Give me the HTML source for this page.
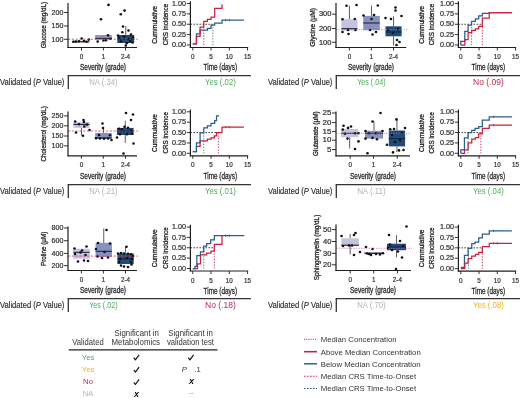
<!DOCTYPE html>
<html><head><meta charset="utf-8"><style>
html,body{margin:0;padding:0;background:#fff;}
svg{display:block;font-family:"Liberation Sans", sans-serif;filter:blur(0.4px);}
</style></head><body>
<svg width="520" height="398" viewBox="0 0 520 398">
<rect width="520" height="398" fill="#fff"/>
<rect x="72.30" y="40.60" width="17.00" height="2.20" fill="#c3c4df"/>
<line x1="72.30" y1="41.80" x2="89.30" y2="41.80" stroke="#1a1a2a" stroke-width="1.0" stroke-linecap="butt"/>
<rect x="95.20" y="35.10" width="16.60" height="4.40" fill="#8791bf"/>
<line x1="95.20" y1="38.60" x2="111.80" y2="38.60" stroke="#1a1a2a" stroke-width="1.0" stroke-linecap="butt"/>
<line x1="125.75" y1="26.00" x2="125.75" y2="35.00" stroke="#333" stroke-width="0.8" stroke-linecap="butt"/>
<line x1="125.75" y1="43.00" x2="125.75" y2="46.60" stroke="#333" stroke-width="0.8" stroke-linecap="butt"/>
<rect x="117.30" y="35.00" width="16.90" height="8.00" fill="#1f4b7b"/>
<line x1="117.30" y1="39.50" x2="134.20" y2="39.50" stroke="#0d2340" stroke-width="1.0" stroke-linecap="butt"/>
<circle cx="73.50" cy="41.80" r="1.3" fill="#111"/>
<circle cx="76.00" cy="41.50" r="1.3" fill="#111"/>
<circle cx="79.00" cy="41.20" r="1.3" fill="#111"/>
<circle cx="81.70" cy="38.50" r="1.3" fill="#111"/>
<circle cx="84.00" cy="41.00" r="1.3" fill="#111"/>
<circle cx="86.50" cy="41.80" r="1.3" fill="#111"/>
<circle cx="88.80" cy="39.60" r="1.3" fill="#111"/>
<circle cx="101.00" cy="19.20" r="1.3" fill="#111"/>
<circle cx="108.50" cy="4.90" r="1.3" fill="#111"/>
<circle cx="97.70" cy="41.50" r="1.3" fill="#111"/>
<circle cx="103.50" cy="40.50" r="1.3" fill="#111"/>
<circle cx="106.00" cy="40.20" r="1.3" fill="#111"/>
<circle cx="108.00" cy="35.20" r="1.3" fill="#111"/>
<circle cx="110.50" cy="38.80" r="1.3" fill="#111"/>
<circle cx="120.80" cy="14.20" r="1.3" fill="#111"/>
<circle cx="124.60" cy="10.60" r="1.3" fill="#111"/>
<circle cx="123.00" cy="26.50" r="1.3" fill="#111"/>
<circle cx="122.30" cy="32.30" r="1.3" fill="#111"/>
<circle cx="128.50" cy="30.50" r="1.3" fill="#111"/>
<circle cx="131.00" cy="34.60" r="1.3" fill="#111"/>
<circle cx="125.80" cy="45.50" r="1.3" fill="#111"/>
<circle cx="119.00" cy="38.00" r="1.3" fill="#111"/>
<circle cx="121.00" cy="41.50" r="1.3" fill="#111"/>
<circle cx="127.00" cy="43.00" r="1.3" fill="#111"/>
<circle cx="130.00" cy="41.00" r="1.3" fill="#111"/>
<circle cx="133.00" cy="37.50" r="1.3" fill="#111"/>
<circle cx="118.00" cy="35.50" r="1.3" fill="#111"/>
<circle cx="124.00" cy="36.50" r="1.3" fill="#111"/>
<circle cx="129.00" cy="38.80" r="1.3" fill="#111"/>
<circle cx="132.50" cy="42.50" r="1.3" fill="#111"/>
<line x1="68.00" y1="39.20" x2="138.00" y2="39.20" stroke="#d83c5c" stroke-width="0.8" stroke-dasharray="2.2,1.6" stroke-linecap="butt"/>
<line x1="68.00" y1="3.00" x2="68.00" y2="48.05" stroke="#1e1e1e" stroke-width="1.2" stroke-linecap="butt"/>
<line x1="67.40" y1="47.50" x2="137.00" y2="47.50" stroke="#1e1e1e" stroke-width="1.2" stroke-linecap="butt"/>
<line x1="64.00" y1="12.50" x2="68.00" y2="12.50" stroke="#1e1e1e" stroke-width="0.9" stroke-linecap="butt"/>
<text x="63.40" y="14.70" font-size="6.3" fill="#333" text-anchor="end" textLength="11.8" lengthAdjust="spacingAndGlyphs"  stroke="#333" stroke-width="0.2">200</text>
<line x1="64.00" y1="26.00" x2="68.00" y2="26.00" stroke="#1e1e1e" stroke-width="0.9" stroke-linecap="butt"/>
<text x="63.40" y="28.20" font-size="6.3" fill="#333" text-anchor="end" textLength="11.8" lengthAdjust="spacingAndGlyphs"  stroke="#333" stroke-width="0.2">150</text>
<line x1="64.00" y1="39.30" x2="68.00" y2="39.30" stroke="#1e1e1e" stroke-width="0.9" stroke-linecap="butt"/>
<text x="63.40" y="41.50" font-size="6.3" fill="#333" text-anchor="end" textLength="11.8" lengthAdjust="spacingAndGlyphs"  stroke="#333" stroke-width="0.2">100</text>
<line x1="81.50" y1="47.50" x2="81.50" y2="50.50" stroke="#1e1e1e" stroke-width="0.9" stroke-linecap="butt"/>
<text x="81.50" y="59.00" font-size="6.3" fill="#333" text-anchor="middle"  stroke="#333" stroke-width="0.2">0</text>
<line x1="103.40" y1="47.50" x2="103.40" y2="50.50" stroke="#1e1e1e" stroke-width="0.9" stroke-linecap="butt"/>
<text x="103.40" y="59.00" font-size="6.3" fill="#333" text-anchor="middle"  stroke="#333" stroke-width="0.2">1</text>
<line x1="125.50" y1="47.50" x2="125.50" y2="50.50" stroke="#1e1e1e" stroke-width="0.9" stroke-linecap="butt"/>
<text x="125.50" y="59.00" font-size="6.3" fill="#333" text-anchor="middle"  stroke="#333" stroke-width="0.2">2-4</text>
<text transform="translate(46.30,25.10) rotate(-90)" x="0" y="0" font-size="7.6" fill="#222" text-anchor="middle" textLength="46.5" lengthAdjust="spacingAndGlyphs"  stroke="#222" stroke-width="0.3">Glucose (mg/dL)</text>
<text x="103.00" y="70.30" font-size="8.8" fill="#2a2a2a" text-anchor="middle" textLength="46" lengthAdjust="spacingAndGlyphs"  stroke="#2a2a2a" stroke-width="0.3">Severity (grade)</text>
<line x1="190.40" y1="24.25" x2="212.88" y2="24.25" stroke="#333" stroke-width="0.9" stroke-dasharray="1.6,1.4" stroke-linecap="butt"/>
<line x1="212.88" y1="24.25" x2="212.88" y2="45.00" stroke="#3a7a8a" stroke-width="0.9" stroke-dasharray="1.4,1.4" stroke-linecap="butt"/>
<line x1="203.75" y1="24.25" x2="203.75" y2="45.00" stroke="#d0264a" stroke-width="0.9" stroke-dasharray="1.4,1.4" stroke-linecap="butt"/>
<path d="M192.80,43.76H196.45V33.80H200.10V30.06H207.40V28.40H211.05V25.08H214.70V23.00H222.00V20.10H243.90" fill="none" stroke="#2c5d8c" stroke-width="1.25" stroke-linejoin="miter"/>
<path d="M192.80,43.76H196.45V36.28H200.10V27.16H203.75V21.35H207.40V19.27H211.05V17.19H214.70V8.48H222.00V4.75H222.37" fill="none" stroke="#c9213f" stroke-width="1.25" stroke-linejoin="miter"/>
<line x1="225.65" y1="18.90" x2="225.65" y2="21.30" stroke="#2c5d8c" stroke-width="0.8" stroke-linecap="butt"/>
<line x1="229.30" y1="18.90" x2="229.30" y2="21.30" stroke="#2c5d8c" stroke-width="0.8" stroke-linecap="butt"/>
<line x1="190.40" y1="1.20" x2="190.40" y2="48.05" stroke="#1e1e1e" stroke-width="1.2" stroke-linecap="butt"/>
<line x1="189.80" y1="47.50" x2="248.15" y2="47.50" stroke="#1e1e1e" stroke-width="1.2" stroke-linecap="butt"/>
<line x1="186.80" y1="3.50" x2="190.40" y2="3.50" stroke="#1e1e1e" stroke-width="0.9" stroke-linecap="butt"/>
<text x="186.00" y="5.70" font-size="6.3" fill="#333" text-anchor="end" textLength="14" lengthAdjust="spacingAndGlyphs"  stroke="#333" stroke-width="0.2">1.00</text>
<line x1="186.80" y1="13.88" x2="190.40" y2="13.88" stroke="#1e1e1e" stroke-width="0.9" stroke-linecap="butt"/>
<text x="186.00" y="16.07" font-size="6.3" fill="#333" text-anchor="end" textLength="14" lengthAdjust="spacingAndGlyphs"  stroke="#333" stroke-width="0.2">0.75</text>
<line x1="186.80" y1="24.25" x2="190.40" y2="24.25" stroke="#1e1e1e" stroke-width="0.9" stroke-linecap="butt"/>
<text x="186.00" y="26.45" font-size="6.3" fill="#333" text-anchor="end" textLength="14" lengthAdjust="spacingAndGlyphs"  stroke="#333" stroke-width="0.2">0.50</text>
<line x1="186.80" y1="34.62" x2="190.40" y2="34.62" stroke="#1e1e1e" stroke-width="0.9" stroke-linecap="butt"/>
<text x="186.00" y="36.83" font-size="6.3" fill="#333" text-anchor="end" textLength="14" lengthAdjust="spacingAndGlyphs"  stroke="#333" stroke-width="0.2">0.25</text>
<line x1="186.80" y1="45.00" x2="190.40" y2="45.00" stroke="#1e1e1e" stroke-width="0.9" stroke-linecap="butt"/>
<text x="186.00" y="47.20" font-size="6.3" fill="#333" text-anchor="end" textLength="14" lengthAdjust="spacingAndGlyphs"  stroke="#333" stroke-width="0.2">0.00</text>
<line x1="192.80" y1="47.50" x2="192.80" y2="50.50" stroke="#1e1e1e" stroke-width="0.9" stroke-linecap="butt"/>
<text x="192.80" y="59.00" font-size="6.3" fill="#333" text-anchor="middle"  stroke="#333" stroke-width="0.2">0</text>
<line x1="211.05" y1="47.50" x2="211.05" y2="50.50" stroke="#1e1e1e" stroke-width="0.9" stroke-linecap="butt"/>
<text x="211.05" y="59.00" font-size="6.3" fill="#333" text-anchor="middle"  stroke="#333" stroke-width="0.2">5</text>
<line x1="229.30" y1="47.50" x2="229.30" y2="50.50" stroke="#1e1e1e" stroke-width="0.9" stroke-linecap="butt"/>
<text x="229.30" y="59.00" font-size="6.3" fill="#333" text-anchor="middle"  stroke="#333" stroke-width="0.2">10</text>
<line x1="247.55" y1="47.50" x2="247.55" y2="50.50" stroke="#1e1e1e" stroke-width="0.9" stroke-linecap="butt"/>
<text x="247.55" y="59.00" font-size="6.3" fill="#333" text-anchor="middle"  stroke="#333" stroke-width="0.2">15</text>
<text transform="translate(156.80,24.80) rotate(-90)" x="0" y="0" font-size="7.8" fill="#222" text-anchor="middle" textLength="37.7" lengthAdjust="spacingAndGlyphs"  stroke="#222" stroke-width="0.3">Cummulative</text>
<text transform="translate(167.50,24.50) rotate(-90)" x="0" y="0" font-size="7.8" fill="#222" text-anchor="middle" textLength="41.4" lengthAdjust="spacingAndGlyphs"  stroke="#222" stroke-width="0.3">CRS incidence</text>
<text x="220.30" y="70.30" font-size="8.8" fill="#2a2a2a" text-anchor="middle" textLength="33.5" lengthAdjust="spacingAndGlyphs"  stroke="#2a2a2a" stroke-width="0.3">Time (days)</text>
<text x="0.00" y="85.30" font-size="8.6" fill="#2a2a2a" textLength="64.4" lengthAdjust="spacingAndGlyphs"  stroke="#2a2a2a" stroke-width="0.15">Validated (<tspan font-style="italic">P</tspan> Value)</text>
<line x1="68.30" y1="75.60" x2="68.30" y2="88.90" stroke="#333" stroke-width="1.3" stroke-linecap="butt"/>
<line x1="67.70" y1="75.60" x2="251.00" y2="75.60" stroke="#333" stroke-width="1.3" stroke-linecap="butt"/>
<text x="103.40" y="85.30" font-size="8.6" fill="#b4b4b4" text-anchor="middle" textLength="28.5" lengthAdjust="spacingAndGlyphs" >NA (.34)</text>
<text x="220.40" y="85.30" font-size="8.6" fill="#4fab5c" text-anchor="middle" textLength="30.8" lengthAdjust="spacingAndGlyphs" >Yes (.02)</text>
<line x1="81.45" y1="127.90" x2="81.45" y2="135.70" stroke="#333" stroke-width="0.8" stroke-linecap="butt"/>
<rect x="73.40" y="122.20" width="16.10" height="5.70" fill="#c3c4df"/>
<line x1="73.40" y1="124.40" x2="89.50" y2="124.40" stroke="#1a1a2a" stroke-width="1.0" stroke-linecap="butt"/>
<line x1="103.50" y1="127.90" x2="103.50" y2="132.90" stroke="#333" stroke-width="0.8" stroke-linecap="butt"/>
<rect x="95.20" y="132.90" width="16.60" height="6.10" fill="#8791bf"/>
<line x1="95.20" y1="137.90" x2="111.80" y2="137.90" stroke="#1a1a2a" stroke-width="1.0" stroke-linecap="butt"/>
<line x1="125.25" y1="120.80" x2="125.25" y2="127.90" stroke="#333" stroke-width="0.8" stroke-linecap="butt"/>
<line x1="125.25" y1="135.00" x2="125.25" y2="142.90" stroke="#333" stroke-width="0.8" stroke-linecap="butt"/>
<rect x="116.90" y="127.90" width="16.70" height="7.10" fill="#1f4b7b"/>
<line x1="116.90" y1="131.00" x2="133.60" y2="131.00" stroke="#0d2340" stroke-width="1.0" stroke-linecap="butt"/>
<circle cx="75.20" cy="121.50" r="1.3" fill="#111"/>
<circle cx="83.50" cy="120.10" r="1.3" fill="#111"/>
<circle cx="84.00" cy="122.00" r="1.3" fill="#111"/>
<circle cx="84.30" cy="126.50" r="1.3" fill="#111"/>
<circle cx="76.00" cy="132.50" r="1.3" fill="#111"/>
<circle cx="83.00" cy="135.70" r="1.3" fill="#111"/>
<circle cx="89.50" cy="130.00" r="1.3" fill="#111"/>
<circle cx="79.00" cy="124.30" r="1.3" fill="#111"/>
<circle cx="87.00" cy="124.60" r="1.3" fill="#111"/>
<circle cx="102.50" cy="123.50" r="1.3" fill="#111"/>
<circle cx="103.00" cy="128.00" r="1.3" fill="#111"/>
<circle cx="99.00" cy="135.00" r="1.3" fill="#111"/>
<circle cx="96.00" cy="138.30" r="1.3" fill="#111"/>
<circle cx="100.00" cy="138.50" r="1.3" fill="#111"/>
<circle cx="104.00" cy="138.70" r="1.3" fill="#111"/>
<circle cx="108.00" cy="138.50" r="1.3" fill="#111"/>
<circle cx="111.50" cy="140.00" r="1.3" fill="#111"/>
<circle cx="110.00" cy="135.30" r="1.3" fill="#111"/>
<circle cx="126.00" cy="113.00" r="1.3" fill="#111"/>
<circle cx="133.00" cy="114.50" r="1.3" fill="#111"/>
<circle cx="131.00" cy="120.00" r="1.3" fill="#111"/>
<circle cx="117.00" cy="137.50" r="1.3" fill="#111"/>
<circle cx="133.50" cy="143.50" r="1.3" fill="#111"/>
<circle cx="123.50" cy="153.50" r="1.3" fill="#111"/>
<circle cx="119.00" cy="128.80" r="1.3" fill="#111"/>
<circle cx="122.00" cy="129.30" r="1.3" fill="#111"/>
<circle cx="128.00" cy="127.80" r="1.3" fill="#111"/>
<circle cx="131.00" cy="130.30" r="1.3" fill="#111"/>
<circle cx="120.00" cy="134.30" r="1.3" fill="#111"/>
<circle cx="127.00" cy="134.30" r="1.3" fill="#111"/>
<circle cx="132.00" cy="133.80" r="1.3" fill="#111"/>
<circle cx="124.50" cy="126.80" r="1.3" fill="#111"/>
<line x1="68.00" y1="131.00" x2="138.00" y2="131.00" stroke="#d83c5c" stroke-width="0.8" stroke-dasharray="2.2,1.6" stroke-linecap="butt"/>
<line x1="68.00" y1="111.60" x2="68.00" y2="156.35" stroke="#1e1e1e" stroke-width="1.2" stroke-linecap="butt"/>
<line x1="67.40" y1="155.80" x2="137.00" y2="155.80" stroke="#1e1e1e" stroke-width="1.2" stroke-linecap="butt"/>
<line x1="64.00" y1="115.90" x2="68.00" y2="115.90" stroke="#1e1e1e" stroke-width="0.9" stroke-linecap="butt"/>
<text x="63.40" y="118.10" font-size="6.3" fill="#333" text-anchor="end" textLength="11.8" lengthAdjust="spacingAndGlyphs"  stroke="#333" stroke-width="0.2">250</text>
<line x1="64.00" y1="125.80" x2="68.00" y2="125.80" stroke="#1e1e1e" stroke-width="0.9" stroke-linecap="butt"/>
<text x="63.40" y="128.00" font-size="6.3" fill="#333" text-anchor="end" textLength="11.8" lengthAdjust="spacingAndGlyphs"  stroke="#333" stroke-width="0.2">200</text>
<line x1="64.00" y1="136.00" x2="68.00" y2="136.00" stroke="#1e1e1e" stroke-width="0.9" stroke-linecap="butt"/>
<text x="63.40" y="138.20" font-size="6.3" fill="#333" text-anchor="end" textLength="11.8" lengthAdjust="spacingAndGlyphs"  stroke="#333" stroke-width="0.2">150</text>
<line x1="64.00" y1="145.90" x2="68.00" y2="145.90" stroke="#1e1e1e" stroke-width="0.9" stroke-linecap="butt"/>
<text x="63.40" y="148.10" font-size="6.3" fill="#333" text-anchor="end" textLength="11.8" lengthAdjust="spacingAndGlyphs"  stroke="#333" stroke-width="0.2">100</text>
<line x1="81.40" y1="155.80" x2="81.40" y2="158.80" stroke="#1e1e1e" stroke-width="0.9" stroke-linecap="butt"/>
<text x="81.40" y="167.30" font-size="6.3" fill="#333" text-anchor="middle"  stroke="#333" stroke-width="0.2">0</text>
<line x1="103.30" y1="155.80" x2="103.30" y2="158.80" stroke="#1e1e1e" stroke-width="0.9" stroke-linecap="butt"/>
<text x="103.30" y="167.30" font-size="6.3" fill="#333" text-anchor="middle"  stroke="#333" stroke-width="0.2">1</text>
<line x1="125.50" y1="155.80" x2="125.50" y2="158.80" stroke="#1e1e1e" stroke-width="0.9" stroke-linecap="butt"/>
<text x="125.50" y="167.30" font-size="6.3" fill="#333" text-anchor="middle"  stroke="#333" stroke-width="0.2">2-4</text>
<text transform="translate(46.30,133.90) rotate(-90)" x="0" y="0" font-size="7.6" fill="#222" text-anchor="middle" textLength="55.4" lengthAdjust="spacingAndGlyphs"  stroke="#222" stroke-width="0.3">Cholesterol (mg/dL)</text>
<text x="103.00" y="178.60" font-size="8.8" fill="#2a2a2a" text-anchor="middle" textLength="46" lengthAdjust="spacingAndGlyphs"  stroke="#2a2a2a" stroke-width="0.3">Severity (grade)</text>
<line x1="190.40" y1="132.55" x2="218.35" y2="132.55" stroke="#333" stroke-width="0.9" stroke-dasharray="1.6,1.4" stroke-linecap="butt"/>
<line x1="203.75" y1="132.55" x2="203.75" y2="153.30" stroke="#3a7a8a" stroke-width="0.9" stroke-dasharray="1.4,1.4" stroke-linecap="butt"/>
<line x1="218.35" y1="132.55" x2="218.35" y2="153.30" stroke="#d0264a" stroke-width="0.9" stroke-dasharray="1.4,1.4" stroke-linecap="butt"/>
<path d="M192.80,151.64H196.45V146.25H200.10V140.85H207.40V139.19H211.05V137.95H214.34V135.87H216.53V132.55H222.00V127.16H243.90" fill="none" stroke="#c9213f" stroke-width="1.25" stroke-linejoin="miter"/>
<path d="M192.80,151.64H196.45V142.93H200.10V132.97H203.75V127.99H207.40V125.91H211.05V123.42H214.70V120.52H216.53V115.95H219.08" fill="none" stroke="#2c5d8c" stroke-width="1.25" stroke-linejoin="miter"/>
<line x1="225.65" y1="125.96" x2="225.65" y2="128.36" stroke="#c9213f" stroke-width="0.8" stroke-linecap="butt"/>
<line x1="229.30" y1="125.96" x2="229.30" y2="128.36" stroke="#c9213f" stroke-width="0.8" stroke-linecap="butt"/>
<line x1="190.40" y1="109.50" x2="190.40" y2="156.35" stroke="#1e1e1e" stroke-width="1.2" stroke-linecap="butt"/>
<line x1="189.80" y1="155.80" x2="248.15" y2="155.80" stroke="#1e1e1e" stroke-width="1.2" stroke-linecap="butt"/>
<line x1="186.80" y1="111.80" x2="190.40" y2="111.80" stroke="#1e1e1e" stroke-width="0.9" stroke-linecap="butt"/>
<text x="186.00" y="114.00" font-size="6.3" fill="#333" text-anchor="end" textLength="14" lengthAdjust="spacingAndGlyphs"  stroke="#333" stroke-width="0.2">1.00</text>
<line x1="186.80" y1="122.18" x2="190.40" y2="122.18" stroke="#1e1e1e" stroke-width="0.9" stroke-linecap="butt"/>
<text x="186.00" y="124.38" font-size="6.3" fill="#333" text-anchor="end" textLength="14" lengthAdjust="spacingAndGlyphs"  stroke="#333" stroke-width="0.2">0.75</text>
<line x1="186.80" y1="132.55" x2="190.40" y2="132.55" stroke="#1e1e1e" stroke-width="0.9" stroke-linecap="butt"/>
<text x="186.00" y="134.75" font-size="6.3" fill="#333" text-anchor="end" textLength="14" lengthAdjust="spacingAndGlyphs"  stroke="#333" stroke-width="0.2">0.50</text>
<line x1="186.80" y1="142.93" x2="190.40" y2="142.93" stroke="#1e1e1e" stroke-width="0.9" stroke-linecap="butt"/>
<text x="186.00" y="145.12" font-size="6.3" fill="#333" text-anchor="end" textLength="14" lengthAdjust="spacingAndGlyphs"  stroke="#333" stroke-width="0.2">0.25</text>
<line x1="186.80" y1="153.30" x2="190.40" y2="153.30" stroke="#1e1e1e" stroke-width="0.9" stroke-linecap="butt"/>
<text x="186.00" y="155.50" font-size="6.3" fill="#333" text-anchor="end" textLength="14" lengthAdjust="spacingAndGlyphs"  stroke="#333" stroke-width="0.2">0.00</text>
<line x1="192.80" y1="155.80" x2="192.80" y2="158.80" stroke="#1e1e1e" stroke-width="0.9" stroke-linecap="butt"/>
<text x="192.80" y="167.30" font-size="6.3" fill="#333" text-anchor="middle"  stroke="#333" stroke-width="0.2">0</text>
<line x1="211.05" y1="155.80" x2="211.05" y2="158.80" stroke="#1e1e1e" stroke-width="0.9" stroke-linecap="butt"/>
<text x="211.05" y="167.30" font-size="6.3" fill="#333" text-anchor="middle"  stroke="#333" stroke-width="0.2">5</text>
<line x1="229.30" y1="155.80" x2="229.30" y2="158.80" stroke="#1e1e1e" stroke-width="0.9" stroke-linecap="butt"/>
<text x="229.30" y="167.30" font-size="6.3" fill="#333" text-anchor="middle"  stroke="#333" stroke-width="0.2">10</text>
<line x1="247.55" y1="155.80" x2="247.55" y2="158.80" stroke="#1e1e1e" stroke-width="0.9" stroke-linecap="butt"/>
<text x="247.55" y="167.30" font-size="6.3" fill="#333" text-anchor="middle"  stroke="#333" stroke-width="0.2">15</text>
<text transform="translate(156.80,133.10) rotate(-90)" x="0" y="0" font-size="7.8" fill="#222" text-anchor="middle" textLength="37.7" lengthAdjust="spacingAndGlyphs"  stroke="#222" stroke-width="0.3">Cummulative</text>
<text transform="translate(167.50,132.80) rotate(-90)" x="0" y="0" font-size="7.8" fill="#222" text-anchor="middle" textLength="41.4" lengthAdjust="spacingAndGlyphs"  stroke="#222" stroke-width="0.3">CRS incidence</text>
<text x="220.30" y="178.60" font-size="8.8" fill="#2a2a2a" text-anchor="middle" textLength="33.5" lengthAdjust="spacingAndGlyphs"  stroke="#2a2a2a" stroke-width="0.3">Time (days)</text>
<text x="0.00" y="194.30" font-size="8.6" fill="#2a2a2a" textLength="64.4" lengthAdjust="spacingAndGlyphs"  stroke="#2a2a2a" stroke-width="0.15">Validated (<tspan font-style="italic">P</tspan> Value)</text>
<line x1="68.30" y1="184.60" x2="68.30" y2="197.90" stroke="#333" stroke-width="1.3" stroke-linecap="butt"/>
<line x1="67.70" y1="184.60" x2="251.00" y2="184.60" stroke="#333" stroke-width="1.3" stroke-linecap="butt"/>
<text x="103.40" y="194.30" font-size="8.6" fill="#b4b4b4" text-anchor="middle" textLength="28.5" lengthAdjust="spacingAndGlyphs" >NA (.21)</text>
<text x="220.40" y="194.30" font-size="8.6" fill="#4fab5c" text-anchor="middle" textLength="30.8" lengthAdjust="spacingAndGlyphs" >Yes (.01)</text>
<rect x="73.40" y="248.70" width="16.30" height="10.00" fill="#c3c4df"/>
<line x1="73.40" y1="252.30" x2="89.70" y2="252.30" stroke="#1a1a2a" stroke-width="1.0" stroke-linecap="butt"/>
<line x1="103.75" y1="228.50" x2="103.75" y2="242.80" stroke="#333" stroke-width="0.8" stroke-linecap="butt"/>
<rect x="95.60" y="242.80" width="16.30" height="14.20" fill="#8791bf"/>
<line x1="95.60" y1="251.30" x2="111.90" y2="251.30" stroke="#1a1a2a" stroke-width="1.0" stroke-linecap="butt"/>
<line x1="125.55" y1="246.50" x2="125.55" y2="253.40" stroke="#333" stroke-width="0.8" stroke-linecap="butt"/>
<rect x="117.40" y="253.40" width="16.30" height="10.60" fill="#1f4b7b"/>
<line x1="117.40" y1="259.00" x2="133.70" y2="259.00" stroke="#0d2340" stroke-width="1.0" stroke-linecap="butt"/>
<circle cx="74.50" cy="248.50" r="1.3" fill="#111"/>
<circle cx="82.00" cy="250.50" r="1.3" fill="#111"/>
<circle cx="86.50" cy="246.50" r="1.3" fill="#111"/>
<circle cx="85.50" cy="255.00" r="1.3" fill="#111"/>
<circle cx="80.50" cy="252.50" r="1.3" fill="#111"/>
<circle cx="78.00" cy="261.50" r="1.3" fill="#111"/>
<circle cx="84.00" cy="260.50" r="1.3" fill="#111"/>
<circle cx="88.00" cy="261.00" r="1.3" fill="#111"/>
<circle cx="75.00" cy="254.00" r="1.3" fill="#111"/>
<circle cx="98.00" cy="243.00" r="1.3" fill="#111"/>
<circle cx="106.50" cy="230.00" r="1.3" fill="#111"/>
<circle cx="97.50" cy="256.50" r="1.3" fill="#111"/>
<circle cx="104.50" cy="252.00" r="1.3" fill="#111"/>
<circle cx="102.00" cy="258.00" r="1.3" fill="#111"/>
<circle cx="108.00" cy="257.50" r="1.3" fill="#111"/>
<circle cx="96.00" cy="249.00" r="1.3" fill="#111"/>
<circle cx="110.00" cy="243.50" r="1.3" fill="#111"/>
<circle cx="126.50" cy="246.70" r="1.3" fill="#111"/>
<circle cx="118.00" cy="253.50" r="1.3" fill="#111"/>
<circle cx="121.00" cy="253.00" r="1.3" fill="#111"/>
<circle cx="124.00" cy="253.50" r="1.3" fill="#111"/>
<circle cx="128.00" cy="253.80" r="1.3" fill="#111"/>
<circle cx="131.00" cy="254.20" r="1.3" fill="#111"/>
<circle cx="133.00" cy="256.00" r="1.3" fill="#111"/>
<circle cx="119.00" cy="262.00" r="1.3" fill="#111"/>
<circle cx="121.00" cy="265.50" r="1.3" fill="#111"/>
<circle cx="124.00" cy="266.50" r="1.3" fill="#111"/>
<circle cx="128.00" cy="267.00" r="1.3" fill="#111"/>
<circle cx="131.50" cy="264.50" r="1.3" fill="#111"/>
<circle cx="132.00" cy="259.00" r="1.3" fill="#111"/>
<circle cx="120.00" cy="259.00" r="1.3" fill="#111"/>
<circle cx="127.00" cy="258.00" r="1.3" fill="#111"/>
<circle cx="131.00" cy="262.00" r="1.3" fill="#111"/>
<line x1="68.00" y1="256.10" x2="138.00" y2="256.10" stroke="#d83c5c" stroke-width="0.8" stroke-dasharray="2.2,1.6" stroke-linecap="butt"/>
<line x1="68.00" y1="226.50" x2="68.00" y2="271.05" stroke="#1e1e1e" stroke-width="1.2" stroke-linecap="butt"/>
<line x1="67.40" y1="270.50" x2="137.00" y2="270.50" stroke="#1e1e1e" stroke-width="1.2" stroke-linecap="butt"/>
<line x1="64.00" y1="228.00" x2="68.00" y2="228.00" stroke="#1e1e1e" stroke-width="0.9" stroke-linecap="butt"/>
<text x="63.40" y="230.20" font-size="6.3" fill="#333" text-anchor="end" textLength="11.8" lengthAdjust="spacingAndGlyphs"  stroke="#333" stroke-width="0.2">800</text>
<line x1="64.00" y1="240.70" x2="68.00" y2="240.70" stroke="#1e1e1e" stroke-width="0.9" stroke-linecap="butt"/>
<text x="63.40" y="242.90" font-size="6.3" fill="#333" text-anchor="end" textLength="11.8" lengthAdjust="spacingAndGlyphs"  stroke="#333" stroke-width="0.2">600</text>
<line x1="64.00" y1="253.40" x2="68.00" y2="253.40" stroke="#1e1e1e" stroke-width="0.9" stroke-linecap="butt"/>
<text x="63.40" y="255.60" font-size="6.3" fill="#333" text-anchor="end" textLength="11.8" lengthAdjust="spacingAndGlyphs"  stroke="#333" stroke-width="0.2">400</text>
<line x1="64.00" y1="265.60" x2="68.00" y2="265.60" stroke="#1e1e1e" stroke-width="0.9" stroke-linecap="butt"/>
<text x="63.40" y="267.80" font-size="6.3" fill="#333" text-anchor="end" textLength="11.8" lengthAdjust="spacingAndGlyphs"  stroke="#333" stroke-width="0.2">200</text>
<line x1="81.40" y1="270.50" x2="81.40" y2="273.50" stroke="#1e1e1e" stroke-width="0.9" stroke-linecap="butt"/>
<text x="81.40" y="282.00" font-size="6.3" fill="#333" text-anchor="middle"  stroke="#333" stroke-width="0.2">0</text>
<line x1="103.40" y1="270.50" x2="103.40" y2="273.50" stroke="#1e1e1e" stroke-width="0.9" stroke-linecap="butt"/>
<text x="103.40" y="282.00" font-size="6.3" fill="#333" text-anchor="middle"  stroke="#333" stroke-width="0.2">1</text>
<line x1="125.50" y1="270.50" x2="125.50" y2="273.50" stroke="#1e1e1e" stroke-width="0.9" stroke-linecap="butt"/>
<text x="125.50" y="282.00" font-size="6.3" fill="#333" text-anchor="middle"  stroke="#333" stroke-width="0.2">2-4</text>
<text transform="translate(46.30,248.90) rotate(-90)" x="0" y="0" font-size="7.6" fill="#222" text-anchor="middle" textLength="34.3" lengthAdjust="spacingAndGlyphs"  stroke="#222" stroke-width="0.3">Proline (µM)</text>
<text x="103.00" y="293.30" font-size="8.8" fill="#2a2a2a" text-anchor="middle" textLength="46" lengthAdjust="spacingAndGlyphs"  stroke="#2a2a2a" stroke-width="0.3">Severity (grade)</text>
<line x1="190.40" y1="247.75" x2="214.34" y2="247.75" stroke="#333" stroke-width="0.9" stroke-dasharray="1.6,1.4" stroke-linecap="butt"/>
<line x1="203.75" y1="247.75" x2="203.75" y2="268.50" stroke="#3a7a8a" stroke-width="0.9" stroke-dasharray="1.4,1.4" stroke-linecap="butt"/>
<line x1="214.34" y1="247.75" x2="214.34" y2="268.50" stroke="#d0264a" stroke-width="0.9" stroke-dasharray="1.4,1.4" stroke-linecap="butt"/>
<path d="M192.80,268.50H197.55V263.94H200.47V254.81H206.67V253.15H211.05V251.07H214.34V244.43H222.00V235.72H222.00" fill="none" stroke="#c9213f" stroke-width="1.25" stroke-linejoin="miter"/>
<path d="M192.80,268.50H194.99V266.43H196.81V255.63H200.47V251.90H203.75V246.09H206.67V243.60H210.69V239.87H214.34V235.72H244.27" fill="none" stroke="#2c5d8c" stroke-width="1.25" stroke-linejoin="miter"/>
<line x1="225.65" y1="234.52" x2="225.65" y2="236.91" stroke="#2c5d8c" stroke-width="0.8" stroke-linecap="butt"/>
<line x1="229.30" y1="234.52" x2="229.30" y2="236.91" stroke="#2c5d8c" stroke-width="0.8" stroke-linecap="butt"/>
<line x1="190.40" y1="224.70" x2="190.40" y2="271.55" stroke="#1e1e1e" stroke-width="1.2" stroke-linecap="butt"/>
<line x1="189.80" y1="271.00" x2="248.15" y2="271.00" stroke="#1e1e1e" stroke-width="1.2" stroke-linecap="butt"/>
<line x1="186.80" y1="227.00" x2="190.40" y2="227.00" stroke="#1e1e1e" stroke-width="0.9" stroke-linecap="butt"/>
<text x="186.00" y="229.20" font-size="6.3" fill="#333" text-anchor="end" textLength="14" lengthAdjust="spacingAndGlyphs"  stroke="#333" stroke-width="0.2">1.00</text>
<line x1="186.80" y1="237.38" x2="190.40" y2="237.38" stroke="#1e1e1e" stroke-width="0.9" stroke-linecap="butt"/>
<text x="186.00" y="239.57" font-size="6.3" fill="#333" text-anchor="end" textLength="14" lengthAdjust="spacingAndGlyphs"  stroke="#333" stroke-width="0.2">0.75</text>
<line x1="186.80" y1="247.75" x2="190.40" y2="247.75" stroke="#1e1e1e" stroke-width="0.9" stroke-linecap="butt"/>
<text x="186.00" y="249.95" font-size="6.3" fill="#333" text-anchor="end" textLength="14" lengthAdjust="spacingAndGlyphs"  stroke="#333" stroke-width="0.2">0.50</text>
<line x1="186.80" y1="258.12" x2="190.40" y2="258.12" stroke="#1e1e1e" stroke-width="0.9" stroke-linecap="butt"/>
<text x="186.00" y="260.32" font-size="6.3" fill="#333" text-anchor="end" textLength="14" lengthAdjust="spacingAndGlyphs"  stroke="#333" stroke-width="0.2">0.25</text>
<line x1="186.80" y1="268.50" x2="190.40" y2="268.50" stroke="#1e1e1e" stroke-width="0.9" stroke-linecap="butt"/>
<text x="186.00" y="270.70" font-size="6.3" fill="#333" text-anchor="end" textLength="14" lengthAdjust="spacingAndGlyphs"  stroke="#333" stroke-width="0.2">0.00</text>
<line x1="192.80" y1="271.00" x2="192.80" y2="274.00" stroke="#1e1e1e" stroke-width="0.9" stroke-linecap="butt"/>
<text x="192.80" y="282.50" font-size="6.3" fill="#333" text-anchor="middle"  stroke="#333" stroke-width="0.2">0</text>
<line x1="211.05" y1="271.00" x2="211.05" y2="274.00" stroke="#1e1e1e" stroke-width="0.9" stroke-linecap="butt"/>
<text x="211.05" y="282.50" font-size="6.3" fill="#333" text-anchor="middle"  stroke="#333" stroke-width="0.2">5</text>
<line x1="229.30" y1="271.00" x2="229.30" y2="274.00" stroke="#1e1e1e" stroke-width="0.9" stroke-linecap="butt"/>
<text x="229.30" y="282.50" font-size="6.3" fill="#333" text-anchor="middle"  stroke="#333" stroke-width="0.2">10</text>
<line x1="247.55" y1="271.00" x2="247.55" y2="274.00" stroke="#1e1e1e" stroke-width="0.9" stroke-linecap="butt"/>
<text x="247.55" y="282.50" font-size="6.3" fill="#333" text-anchor="middle"  stroke="#333" stroke-width="0.2">15</text>
<text transform="translate(156.80,248.30) rotate(-90)" x="0" y="0" font-size="7.8" fill="#222" text-anchor="middle" textLength="37.7" lengthAdjust="spacingAndGlyphs"  stroke="#222" stroke-width="0.3">Cummulative</text>
<text transform="translate(167.50,248.00) rotate(-90)" x="0" y="0" font-size="7.8" fill="#222" text-anchor="middle" textLength="41.4" lengthAdjust="spacingAndGlyphs"  stroke="#222" stroke-width="0.3">CRS incidence</text>
<text x="220.30" y="293.80" font-size="8.8" fill="#2a2a2a" text-anchor="middle" textLength="33.5" lengthAdjust="spacingAndGlyphs"  stroke="#2a2a2a" stroke-width="0.3">Time (days)</text>
<text x="0.00" y="308.30" font-size="8.6" fill="#2a2a2a" textLength="64.4" lengthAdjust="spacingAndGlyphs"  stroke="#2a2a2a" stroke-width="0.15">Validated (<tspan font-style="italic">P</tspan> Value)</text>
<line x1="68.30" y1="298.60" x2="68.30" y2="311.90" stroke="#333" stroke-width="1.3" stroke-linecap="butt"/>
<line x1="67.70" y1="298.60" x2="251.00" y2="298.60" stroke="#333" stroke-width="1.3" stroke-linecap="butt"/>
<text x="103.40" y="308.30" font-size="8.6" fill="#4fab5c" text-anchor="middle" textLength="28.5" lengthAdjust="spacingAndGlyphs" >Yes (.02)</text>
<text x="220.40" y="308.30" font-size="8.6" fill="#c2294a" text-anchor="middle" textLength="30.8" lengthAdjust="spacingAndGlyphs" >No (.18)</text>
<line x1="349.45" y1="5.70" x2="349.45" y2="19.20" stroke="#333" stroke-width="0.8" stroke-linecap="butt"/>
<rect x="341.40" y="19.20" width="16.10" height="11.40" fill="#c3c4df"/>
<line x1="341.40" y1="28.70" x2="357.50" y2="28.70" stroke="#1a1a2a" stroke-width="1.0" stroke-linecap="butt"/>
<line x1="371.50" y1="5.70" x2="371.50" y2="15.90" stroke="#333" stroke-width="0.8" stroke-linecap="butt"/>
<rect x="363.20" y="15.90" width="16.60" height="14.30" fill="#8791bf"/>
<line x1="363.20" y1="23.00" x2="379.80" y2="23.00" stroke="#1a1a2a" stroke-width="1.0" stroke-linecap="butt"/>
<line x1="393.55" y1="16.40" x2="393.55" y2="26.30" stroke="#333" stroke-width="0.8" stroke-linecap="butt"/>
<line x1="393.55" y1="36.30" x2="393.55" y2="45.50" stroke="#333" stroke-width="0.8" stroke-linecap="butt"/>
<rect x="385.50" y="26.30" width="16.10" height="10.00" fill="#1f4b7b"/>
<line x1="385.50" y1="32.00" x2="401.60" y2="32.00" stroke="#0d2340" stroke-width="1.0" stroke-linecap="butt"/>
<circle cx="346.50" cy="5.80" r="1.3" fill="#111"/>
<circle cx="356.50" cy="5.00" r="1.3" fill="#111"/>
<circle cx="342.50" cy="19.20" r="1.3" fill="#111"/>
<circle cx="354.80" cy="19.00" r="1.3" fill="#111"/>
<circle cx="342.50" cy="32.00" r="1.3" fill="#111"/>
<circle cx="348.00" cy="30.00" r="1.3" fill="#111"/>
<circle cx="348.50" cy="34.00" r="1.3" fill="#111"/>
<circle cx="355.50" cy="30.00" r="1.3" fill="#111"/>
<circle cx="377.80" cy="5.50" r="1.3" fill="#111"/>
<circle cx="363.50" cy="15.50" r="1.3" fill="#111"/>
<circle cx="374.00" cy="15.00" r="1.3" fill="#111"/>
<circle cx="371.50" cy="19.00" r="1.3" fill="#111"/>
<circle cx="370.00" cy="30.00" r="1.3" fill="#111"/>
<circle cx="372.50" cy="34.50" r="1.3" fill="#111"/>
<circle cx="376.00" cy="32.00" r="1.3" fill="#111"/>
<circle cx="395.50" cy="7.50" r="1.3" fill="#111"/>
<circle cx="395.50" cy="10.50" r="1.3" fill="#111"/>
<circle cx="385.50" cy="18.00" r="1.3" fill="#111"/>
<circle cx="391.00" cy="19.00" r="1.3" fill="#111"/>
<circle cx="401.50" cy="16.00" r="1.3" fill="#111"/>
<circle cx="397.00" cy="40.00" r="1.3" fill="#111"/>
<circle cx="399.50" cy="42.00" r="1.3" fill="#111"/>
<circle cx="396.50" cy="45.00" r="1.3" fill="#111"/>
<circle cx="388.00" cy="30.00" r="1.3" fill="#111"/>
<circle cx="393.00" cy="33.00" r="1.3" fill="#111"/>
<circle cx="398.00" cy="29.00" r="1.3" fill="#111"/>
<line x1="336.00" y1="29.60" x2="407.30" y2="29.60" stroke="#d068a0" stroke-width="0.8" stroke-dasharray="1.2,1.3" stroke-linecap="butt"/>
<line x1="336.00" y1="2.90" x2="336.00" y2="48.05" stroke="#1e1e1e" stroke-width="1.2" stroke-linecap="butt"/>
<line x1="335.40" y1="47.50" x2="406.30" y2="47.50" stroke="#1e1e1e" stroke-width="1.2" stroke-linecap="butt"/>
<line x1="332.00" y1="14.20" x2="336.00" y2="14.20" stroke="#1e1e1e" stroke-width="0.9" stroke-linecap="butt"/>
<text x="331.40" y="16.40" font-size="6.3" fill="#333" text-anchor="end" textLength="12.5" lengthAdjust="spacingAndGlyphs"  stroke="#333" stroke-width="0.2">300</text>
<line x1="332.00" y1="28.50" x2="336.00" y2="28.50" stroke="#1e1e1e" stroke-width="0.9" stroke-linecap="butt"/>
<text x="331.40" y="30.70" font-size="6.3" fill="#333" text-anchor="end" textLength="12.5" lengthAdjust="spacingAndGlyphs"  stroke="#333" stroke-width="0.2">200</text>
<line x1="332.00" y1="42.30" x2="336.00" y2="42.30" stroke="#1e1e1e" stroke-width="0.9" stroke-linecap="butt"/>
<text x="331.40" y="44.50" font-size="6.3" fill="#333" text-anchor="end" textLength="12.5" lengthAdjust="spacingAndGlyphs"  stroke="#333" stroke-width="0.2">100</text>
<line x1="349.40" y1="47.50" x2="349.40" y2="50.50" stroke="#1e1e1e" stroke-width="0.9" stroke-linecap="butt"/>
<text x="349.40" y="59.00" font-size="6.3" fill="#333" text-anchor="middle"  stroke="#333" stroke-width="0.2">0</text>
<line x1="371.30" y1="47.50" x2="371.30" y2="50.50" stroke="#1e1e1e" stroke-width="0.9" stroke-linecap="butt"/>
<text x="371.30" y="59.00" font-size="6.3" fill="#333" text-anchor="middle"  stroke="#333" stroke-width="0.2">1</text>
<line x1="393.50" y1="47.50" x2="393.50" y2="50.50" stroke="#1e1e1e" stroke-width="0.9" stroke-linecap="butt"/>
<text x="393.50" y="59.00" font-size="6.3" fill="#333" text-anchor="middle"  stroke="#333" stroke-width="0.2">2-4</text>
<text transform="translate(314.60,27.30) rotate(-90)" x="0" y="0" font-size="7.6" fill="#222" text-anchor="middle" textLength="38.8" lengthAdjust="spacingAndGlyphs"  stroke="#222" stroke-width="0.3">Glycine (µM)</text>
<text x="371.00" y="70.30" font-size="8.8" fill="#2a2a2a" text-anchor="middle" textLength="46" lengthAdjust="spacingAndGlyphs"  stroke="#2a2a2a" stroke-width="0.3">Severity (grade)</text>
<line x1="458.40" y1="24.25" x2="482.34" y2="24.25" stroke="#333" stroke-width="0.9" stroke-dasharray="1.6,1.4" stroke-linecap="butt"/>
<line x1="471.57" y1="24.25" x2="471.57" y2="45.00" stroke="#3a7a8a" stroke-width="0.9" stroke-dasharray="1.4,1.4" stroke-linecap="butt"/>
<line x1="482.34" y1="24.25" x2="482.34" y2="45.00" stroke="#d0264a" stroke-width="0.9" stroke-dasharray="1.4,1.4" stroke-linecap="butt"/>
<path d="M460.80,45.00H460.80V41.47H464.81V31.30H468.10V25.08H471.57V21.35H475.40V18.86H478.69V15.95H482.34V13.46H489.27V12.63H511.90" fill="none" stroke="#2c5d8c" stroke-width="1.25" stroke-linejoin="miter"/>
<path d="M460.80,45.00H464.81V39.60H468.10V32.55H471.75V30.48H475.40V28.81H478.69V26.32H482.34V18.02H489.27V12.63H511.90" fill="none" stroke="#c9213f" stroke-width="1.25" stroke-linejoin="miter"/>
<line x1="458.40" y1="1.20" x2="458.40" y2="48.05" stroke="#1e1e1e" stroke-width="1.2" stroke-linecap="butt"/>
<line x1="457.80" y1="47.50" x2="516.15" y2="47.50" stroke="#1e1e1e" stroke-width="1.2" stroke-linecap="butt"/>
<line x1="454.80" y1="3.50" x2="458.40" y2="3.50" stroke="#1e1e1e" stroke-width="0.9" stroke-linecap="butt"/>
<text x="454.00" y="5.70" font-size="6.3" fill="#333" text-anchor="end" textLength="14" lengthAdjust="spacingAndGlyphs"  stroke="#333" stroke-width="0.2">1.00</text>
<line x1="454.80" y1="13.88" x2="458.40" y2="13.88" stroke="#1e1e1e" stroke-width="0.9" stroke-linecap="butt"/>
<text x="454.00" y="16.07" font-size="6.3" fill="#333" text-anchor="end" textLength="14" lengthAdjust="spacingAndGlyphs"  stroke="#333" stroke-width="0.2">0.75</text>
<line x1="454.80" y1="24.25" x2="458.40" y2="24.25" stroke="#1e1e1e" stroke-width="0.9" stroke-linecap="butt"/>
<text x="454.00" y="26.45" font-size="6.3" fill="#333" text-anchor="end" textLength="14" lengthAdjust="spacingAndGlyphs"  stroke="#333" stroke-width="0.2">0.50</text>
<line x1="454.80" y1="34.62" x2="458.40" y2="34.62" stroke="#1e1e1e" stroke-width="0.9" stroke-linecap="butt"/>
<text x="454.00" y="36.83" font-size="6.3" fill="#333" text-anchor="end" textLength="14" lengthAdjust="spacingAndGlyphs"  stroke="#333" stroke-width="0.2">0.25</text>
<line x1="454.80" y1="45.00" x2="458.40" y2="45.00" stroke="#1e1e1e" stroke-width="0.9" stroke-linecap="butt"/>
<text x="454.00" y="47.20" font-size="6.3" fill="#333" text-anchor="end" textLength="14" lengthAdjust="spacingAndGlyphs"  stroke="#333" stroke-width="0.2">0.00</text>
<line x1="460.80" y1="47.50" x2="460.80" y2="50.50" stroke="#1e1e1e" stroke-width="0.9" stroke-linecap="butt"/>
<text x="460.80" y="59.00" font-size="6.3" fill="#333" text-anchor="middle"  stroke="#333" stroke-width="0.2">0</text>
<line x1="479.05" y1="47.50" x2="479.05" y2="50.50" stroke="#1e1e1e" stroke-width="0.9" stroke-linecap="butt"/>
<text x="479.05" y="59.00" font-size="6.3" fill="#333" text-anchor="middle"  stroke="#333" stroke-width="0.2">5</text>
<line x1="497.30" y1="47.50" x2="497.30" y2="50.50" stroke="#1e1e1e" stroke-width="0.9" stroke-linecap="butt"/>
<text x="497.30" y="59.00" font-size="6.3" fill="#333" text-anchor="middle"  stroke="#333" stroke-width="0.2">10</text>
<line x1="515.55" y1="47.50" x2="515.55" y2="50.50" stroke="#1e1e1e" stroke-width="0.9" stroke-linecap="butt"/>
<text x="515.55" y="59.00" font-size="6.3" fill="#333" text-anchor="middle"  stroke="#333" stroke-width="0.2">15</text>
<text transform="translate(423.60,24.80) rotate(-90)" x="0" y="0" font-size="7.8" fill="#222" text-anchor="middle" textLength="37.7" lengthAdjust="spacingAndGlyphs"  stroke="#222" stroke-width="0.3">Cummulative</text>
<text transform="translate(434.30,24.50) rotate(-90)" x="0" y="0" font-size="7.8" fill="#222" text-anchor="middle" textLength="41.4" lengthAdjust="spacingAndGlyphs"  stroke="#222" stroke-width="0.3">CRS incidence</text>
<text x="488.30" y="70.30" font-size="8.8" fill="#2a2a2a" text-anchor="middle" textLength="33.5" lengthAdjust="spacingAndGlyphs"  stroke="#2a2a2a" stroke-width="0.3">Time (days)</text>
<text x="268.00" y="85.30" font-size="8.6" fill="#2a2a2a" textLength="64.4" lengthAdjust="spacingAndGlyphs"  stroke="#2a2a2a" stroke-width="0.15">Validated (<tspan font-style="italic">P</tspan> Value)</text>
<line x1="336.30" y1="75.60" x2="336.30" y2="88.90" stroke="#333" stroke-width="1.3" stroke-linecap="butt"/>
<line x1="335.70" y1="75.60" x2="788.00" y2="75.60" stroke="#333" stroke-width="1.3" stroke-linecap="butt"/>
<text x="371.40" y="85.30" font-size="8.6" fill="#4fab5c" text-anchor="middle" textLength="28.5" lengthAdjust="spacingAndGlyphs" >Yes (.04)</text>
<text x="488.40" y="85.30" font-size="8.6" fill="#c2294a" text-anchor="middle" textLength="30.8" lengthAdjust="spacingAndGlyphs" >No (.09)</text>
<line x1="349.65" y1="137.20" x2="349.65" y2="148.50" stroke="#333" stroke-width="0.8" stroke-linecap="butt"/>
<rect x="341.10" y="129.00" width="17.10" height="8.20" fill="#c3c4df"/>
<line x1="341.10" y1="133.30" x2="358.20" y2="133.30" stroke="#1a1a2a" stroke-width="1.0" stroke-linecap="butt"/>
<line x1="374.00" y1="121.50" x2="374.00" y2="130.80" stroke="#333" stroke-width="0.8" stroke-linecap="butt"/>
<rect x="365.00" y="130.80" width="18.00" height="7.80" fill="#8791bf"/>
<line x1="365.00" y1="133.30" x2="383.00" y2="133.30" stroke="#1a1a2a" stroke-width="1.0" stroke-linecap="butt"/>
<line x1="396.95" y1="119.40" x2="396.95" y2="130.50" stroke="#333" stroke-width="0.8" stroke-linecap="butt"/>
<line x1="396.95" y1="146.40" x2="396.95" y2="152.10" stroke="#333" stroke-width="0.8" stroke-linecap="butt"/>
<rect x="388.80" y="130.50" width="16.30" height="15.90" fill="#1f4b7b"/>
<line x1="388.80" y1="138.60" x2="405.10" y2="138.60" stroke="#0d2340" stroke-width="1.0" stroke-linecap="butt"/>
<circle cx="343.50" cy="125.80" r="1.3" fill="#111"/>
<circle cx="342.80" cy="129.60" r="1.3" fill="#111"/>
<circle cx="348.00" cy="127.90" r="1.3" fill="#111"/>
<circle cx="351.00" cy="126.50" r="1.3" fill="#111"/>
<circle cx="345.00" cy="133.80" r="1.3" fill="#111"/>
<circle cx="355.00" cy="133.30" r="1.3" fill="#111"/>
<circle cx="358.50" cy="133.20" r="1.3" fill="#111"/>
<circle cx="347.50" cy="138.60" r="1.3" fill="#111"/>
<circle cx="358.50" cy="141.40" r="1.3" fill="#111"/>
<circle cx="355.00" cy="149.00" r="1.3" fill="#111"/>
<circle cx="380.50" cy="113.00" r="1.3" fill="#111"/>
<circle cx="372.50" cy="121.50" r="1.3" fill="#111"/>
<circle cx="365.50" cy="131.00" r="1.3" fill="#111"/>
<circle cx="382.50" cy="131.00" r="1.3" fill="#111"/>
<circle cx="365.50" cy="138.60" r="1.3" fill="#111"/>
<circle cx="372.50" cy="137.90" r="1.3" fill="#111"/>
<circle cx="377.00" cy="139.30" r="1.3" fill="#111"/>
<circle cx="367.50" cy="153.20" r="1.3" fill="#111"/>
<circle cx="369.00" cy="133.30" r="1.3" fill="#111"/>
<circle cx="376.00" cy="133.30" r="1.3" fill="#111"/>
<circle cx="390.20" cy="129.30" r="1.3" fill="#111"/>
<circle cx="394.00" cy="129.00" r="1.3" fill="#111"/>
<circle cx="396.50" cy="119.40" r="1.3" fill="#111"/>
<circle cx="405.00" cy="128.00" r="1.3" fill="#111"/>
<circle cx="393.00" cy="152.40" r="1.3" fill="#111"/>
<circle cx="399.00" cy="150.40" r="1.3" fill="#111"/>
<circle cx="403.50" cy="150.00" r="1.3" fill="#111"/>
<circle cx="387.00" cy="144.70" r="1.3" fill="#111"/>
<circle cx="392.00" cy="135.00" r="1.3" fill="#111"/>
<circle cx="400.00" cy="140.00" r="1.3" fill="#111"/>
<circle cx="395.00" cy="142.00" r="1.3" fill="#111"/>
<circle cx="402.00" cy="133.00" r="1.3" fill="#111"/>
<line x1="336.00" y1="133.30" x2="411.00" y2="133.30" stroke="#d068a0" stroke-width="0.8" stroke-dasharray="1.2,1.3" stroke-linecap="butt"/>
<line x1="336.00" y1="111.40" x2="336.00" y2="156.35" stroke="#1e1e1e" stroke-width="1.2" stroke-linecap="butt"/>
<line x1="335.40" y1="155.80" x2="410.00" y2="155.80" stroke="#1e1e1e" stroke-width="1.2" stroke-linecap="butt"/>
<line x1="332.00" y1="113.00" x2="336.00" y2="113.00" stroke="#1e1e1e" stroke-width="0.9" stroke-linecap="butt"/>
<text x="331.40" y="115.20" font-size="6.3" fill="#333" text-anchor="end" textLength="8.8" lengthAdjust="spacingAndGlyphs"  stroke="#333" stroke-width="0.2">25</text>
<line x1="332.00" y1="122.60" x2="336.00" y2="122.60" stroke="#1e1e1e" stroke-width="0.9" stroke-linecap="butt"/>
<text x="331.40" y="124.80" font-size="6.3" fill="#333" text-anchor="end" textLength="8.8" lengthAdjust="spacingAndGlyphs"  stroke="#333" stroke-width="0.2">20</text>
<line x1="332.00" y1="131.40" x2="336.00" y2="131.40" stroke="#1e1e1e" stroke-width="0.9" stroke-linecap="butt"/>
<text x="331.40" y="133.60" font-size="6.3" fill="#333" text-anchor="end" textLength="8.8" lengthAdjust="spacingAndGlyphs"  stroke="#333" stroke-width="0.2">15</text>
<line x1="332.00" y1="140.20" x2="336.00" y2="140.20" stroke="#1e1e1e" stroke-width="0.9" stroke-linecap="butt"/>
<text x="331.40" y="142.40" font-size="6.3" fill="#333" text-anchor="end" textLength="8.8" lengthAdjust="spacingAndGlyphs"  stroke="#333" stroke-width="0.2">10</text>
<line x1="332.00" y1="149.50" x2="336.00" y2="149.50" stroke="#1e1e1e" stroke-width="0.9" stroke-linecap="butt"/>
<text x="331.40" y="151.70" font-size="6.3" fill="#333" text-anchor="end" textLength="4.4" lengthAdjust="spacingAndGlyphs"  stroke="#333" stroke-width="0.2">5</text>
<line x1="350.20" y1="155.80" x2="350.20" y2="158.80" stroke="#1e1e1e" stroke-width="0.9" stroke-linecap="butt"/>
<text x="350.20" y="167.30" font-size="6.3" fill="#333" text-anchor="middle"  stroke="#333" stroke-width="0.2">0</text>
<line x1="373.50" y1="155.80" x2="373.50" y2="158.80" stroke="#1e1e1e" stroke-width="0.9" stroke-linecap="butt"/>
<text x="373.50" y="167.30" font-size="6.3" fill="#333" text-anchor="middle"  stroke="#333" stroke-width="0.2">1</text>
<line x1="397.30" y1="155.80" x2="397.30" y2="158.80" stroke="#1e1e1e" stroke-width="0.9" stroke-linecap="butt"/>
<text x="397.30" y="167.30" font-size="6.3" fill="#333" text-anchor="middle"  stroke="#333" stroke-width="0.2">2-4</text>
<text transform="translate(318.20,133.70) rotate(-90)" x="0" y="0" font-size="7.6" fill="#222" text-anchor="middle" textLength="44.6" lengthAdjust="spacingAndGlyphs"  stroke="#222" stroke-width="0.3">Glutamate (µM)</text>
<text x="373.00" y="178.60" font-size="8.8" fill="#2a2a2a" text-anchor="middle" textLength="46" lengthAdjust="spacingAndGlyphs"  stroke="#2a2a2a" stroke-width="0.3">Severity (grade)</text>
<line x1="458.40" y1="132.55" x2="480.88" y2="132.55" stroke="#333" stroke-width="0.9" stroke-dasharray="1.6,1.4" stroke-linecap="butt"/>
<line x1="468.10" y1="132.55" x2="468.10" y2="153.30" stroke="#3a7a8a" stroke-width="0.9" stroke-dasharray="1.4,1.4" stroke-linecap="butt"/>
<line x1="480.88" y1="132.55" x2="480.88" y2="153.30" stroke="#d0264a" stroke-width="0.9" stroke-dasharray="1.4,1.4" stroke-linecap="butt"/>
<path d="M460.80,153.30H464.45V149.98H468.10V142.93H471.75V139.19H475.40V137.53H478.69V133.80H482.34V128.40H489.27V125.08H511.90" fill="none" stroke="#c9213f" stroke-width="1.25" stroke-linejoin="miter"/>
<path d="M460.80,153.30H460.80V149.98H464.45V137.95H468.10V132.55H471.75V130.48H475.04V128.40H478.69V126.74H482.34V120.10H489.27V116.78H511.90" fill="none" stroke="#2c5d8c" stroke-width="1.25" stroke-linejoin="miter"/>
<line x1="493.65" y1="115.58" x2="493.65" y2="117.98" stroke="#2c5d8c" stroke-width="0.8" stroke-linecap="butt"/>
<line x1="493.65" y1="123.88" x2="493.65" y2="126.28" stroke="#c9213f" stroke-width="0.8" stroke-linecap="butt"/>
<line x1="458.40" y1="109.50" x2="458.40" y2="156.35" stroke="#1e1e1e" stroke-width="1.2" stroke-linecap="butt"/>
<line x1="457.80" y1="155.80" x2="516.15" y2="155.80" stroke="#1e1e1e" stroke-width="1.2" stroke-linecap="butt"/>
<line x1="454.80" y1="111.80" x2="458.40" y2="111.80" stroke="#1e1e1e" stroke-width="0.9" stroke-linecap="butt"/>
<text x="454.00" y="114.00" font-size="6.3" fill="#333" text-anchor="end" textLength="14" lengthAdjust="spacingAndGlyphs"  stroke="#333" stroke-width="0.2">1.00</text>
<line x1="454.80" y1="122.18" x2="458.40" y2="122.18" stroke="#1e1e1e" stroke-width="0.9" stroke-linecap="butt"/>
<text x="454.00" y="124.38" font-size="6.3" fill="#333" text-anchor="end" textLength="14" lengthAdjust="spacingAndGlyphs"  stroke="#333" stroke-width="0.2">0.75</text>
<line x1="454.80" y1="132.55" x2="458.40" y2="132.55" stroke="#1e1e1e" stroke-width="0.9" stroke-linecap="butt"/>
<text x="454.00" y="134.75" font-size="6.3" fill="#333" text-anchor="end" textLength="14" lengthAdjust="spacingAndGlyphs"  stroke="#333" stroke-width="0.2">0.50</text>
<line x1="454.80" y1="142.93" x2="458.40" y2="142.93" stroke="#1e1e1e" stroke-width="0.9" stroke-linecap="butt"/>
<text x="454.00" y="145.12" font-size="6.3" fill="#333" text-anchor="end" textLength="14" lengthAdjust="spacingAndGlyphs"  stroke="#333" stroke-width="0.2">0.25</text>
<line x1="454.80" y1="153.30" x2="458.40" y2="153.30" stroke="#1e1e1e" stroke-width="0.9" stroke-linecap="butt"/>
<text x="454.00" y="155.50" font-size="6.3" fill="#333" text-anchor="end" textLength="14" lengthAdjust="spacingAndGlyphs"  stroke="#333" stroke-width="0.2">0.00</text>
<line x1="460.80" y1="155.80" x2="460.80" y2="158.80" stroke="#1e1e1e" stroke-width="0.9" stroke-linecap="butt"/>
<text x="460.80" y="167.30" font-size="6.3" fill="#333" text-anchor="middle"  stroke="#333" stroke-width="0.2">0</text>
<line x1="479.05" y1="155.80" x2="479.05" y2="158.80" stroke="#1e1e1e" stroke-width="0.9" stroke-linecap="butt"/>
<text x="479.05" y="167.30" font-size="6.3" fill="#333" text-anchor="middle"  stroke="#333" stroke-width="0.2">5</text>
<line x1="497.30" y1="155.80" x2="497.30" y2="158.80" stroke="#1e1e1e" stroke-width="0.9" stroke-linecap="butt"/>
<text x="497.30" y="167.30" font-size="6.3" fill="#333" text-anchor="middle"  stroke="#333" stroke-width="0.2">10</text>
<line x1="515.55" y1="155.80" x2="515.55" y2="158.80" stroke="#1e1e1e" stroke-width="0.9" stroke-linecap="butt"/>
<text x="515.55" y="167.30" font-size="6.3" fill="#333" text-anchor="middle"  stroke="#333" stroke-width="0.2">15</text>
<text transform="translate(423.60,133.10) rotate(-90)" x="0" y="0" font-size="7.8" fill="#222" text-anchor="middle" textLength="37.7" lengthAdjust="spacingAndGlyphs"  stroke="#222" stroke-width="0.3">Cummulative</text>
<text transform="translate(434.30,132.80) rotate(-90)" x="0" y="0" font-size="7.8" fill="#222" text-anchor="middle" textLength="41.4" lengthAdjust="spacingAndGlyphs"  stroke="#222" stroke-width="0.3">CRS incidence</text>
<text x="488.30" y="178.60" font-size="8.8" fill="#2a2a2a" text-anchor="middle" textLength="33.5" lengthAdjust="spacingAndGlyphs"  stroke="#2a2a2a" stroke-width="0.3">Time (days)</text>
<text x="268.00" y="194.30" font-size="8.6" fill="#2a2a2a" textLength="64.4" lengthAdjust="spacingAndGlyphs"  stroke="#2a2a2a" stroke-width="0.15">Validated (<tspan font-style="italic">P</tspan> Value)</text>
<line x1="336.30" y1="184.60" x2="336.30" y2="197.90" stroke="#333" stroke-width="1.3" stroke-linecap="butt"/>
<line x1="335.70" y1="184.60" x2="788.00" y2="184.60" stroke="#333" stroke-width="1.3" stroke-linecap="butt"/>
<text x="371.40" y="194.30" font-size="8.6" fill="#b4b4b4" text-anchor="middle" textLength="28.5" lengthAdjust="spacingAndGlyphs" >NA (.11)</text>
<text x="488.40" y="194.30" font-size="8.6" fill="#4fab5c" text-anchor="middle" textLength="30.8" lengthAdjust="spacingAndGlyphs" >Yes (.04)</text>
<line x1="350.15" y1="234.20" x2="350.15" y2="238.30" stroke="#333" stroke-width="0.8" stroke-linecap="butt"/>
<line x1="350.15" y1="246.00" x2="350.15" y2="254.50" stroke="#333" stroke-width="0.8" stroke-linecap="butt"/>
<rect x="341.40" y="238.30" width="17.50" height="7.70" fill="#c3c4df"/>
<line x1="341.40" y1="245.20" x2="358.90" y2="245.20" stroke="#1a1a2a" stroke-width="1.0" stroke-linecap="butt"/>
<rect x="364.50" y="252.30" width="18.50" height="1.70" fill="#8791bf"/>
<line x1="364.50" y1="253.30" x2="383.00" y2="253.30" stroke="#1a1a2a" stroke-width="1.0" stroke-linecap="butt"/>
<line x1="396.50" y1="235.20" x2="396.50" y2="243.70" stroke="#333" stroke-width="0.8" stroke-linecap="butt"/>
<line x1="396.50" y1="250.20" x2="396.50" y2="257.50" stroke="#333" stroke-width="0.8" stroke-linecap="butt"/>
<rect x="387.00" y="243.70" width="19.00" height="6.50" fill="#1f4b7b"/>
<line x1="387.00" y1="247.00" x2="406.00" y2="247.00" stroke="#0d2340" stroke-width="1.0" stroke-linecap="butt"/>
<circle cx="341.50" cy="236.00" r="1.3" fill="#111"/>
<circle cx="354.00" cy="235.00" r="1.3" fill="#111"/>
<circle cx="355.50" cy="233.00" r="1.3" fill="#111"/>
<circle cx="360.00" cy="252.00" r="1.3" fill="#111"/>
<circle cx="354.00" cy="255.00" r="1.3" fill="#111"/>
<circle cx="343.00" cy="246.00" r="1.3" fill="#111"/>
<circle cx="349.00" cy="245.50" r="1.3" fill="#111"/>
<circle cx="352.00" cy="245.50" r="1.3" fill="#111"/>
<circle cx="366.00" cy="247.00" r="1.3" fill="#111"/>
<circle cx="372.50" cy="249.00" r="1.3" fill="#111"/>
<circle cx="371.00" cy="255.00" r="1.3" fill="#111"/>
<circle cx="380.00" cy="254.50" r="1.3" fill="#111"/>
<circle cx="367.00" cy="253.50" r="1.3" fill="#111"/>
<circle cx="376.00" cy="254.00" r="1.3" fill="#111"/>
<circle cx="369.00" cy="254.00" r="1.3" fill="#111"/>
<circle cx="383.00" cy="253.20" r="1.3" fill="#111"/>
<circle cx="406.50" cy="226.50" r="1.3" fill="#111"/>
<circle cx="389.00" cy="235.00" r="1.3" fill="#111"/>
<circle cx="400.00" cy="241.00" r="1.3" fill="#111"/>
<circle cx="402.00" cy="257.50" r="1.3" fill="#111"/>
<circle cx="396.00" cy="269.00" r="1.3" fill="#111"/>
<circle cx="388.00" cy="248.00" r="1.3" fill="#111"/>
<circle cx="392.00" cy="250.00" r="1.3" fill="#111"/>
<circle cx="390.00" cy="244.50" r="1.3" fill="#111"/>
<circle cx="398.00" cy="251.50" r="1.3" fill="#111"/>
<circle cx="403.00" cy="246.00" r="1.3" fill="#111"/>
<line x1="336.00" y1="248.30" x2="412.00" y2="248.30" stroke="#d068a0" stroke-width="0.8" stroke-dasharray="1.2,1.3" stroke-linecap="butt"/>
<line x1="336.00" y1="224.50" x2="336.00" y2="271.05" stroke="#1e1e1e" stroke-width="1.2" stroke-linecap="butt"/>
<line x1="335.40" y1="270.50" x2="411.00" y2="270.50" stroke="#1e1e1e" stroke-width="1.2" stroke-linecap="butt"/>
<line x1="332.00" y1="229.60" x2="336.00" y2="229.60" stroke="#1e1e1e" stroke-width="0.9" stroke-linecap="butt"/>
<text x="331.40" y="231.80" font-size="6.3" fill="#333" text-anchor="end" textLength="8.4" lengthAdjust="spacingAndGlyphs"  stroke="#333" stroke-width="0.2">50</text>
<line x1="332.00" y1="241.50" x2="336.00" y2="241.50" stroke="#1e1e1e" stroke-width="0.9" stroke-linecap="butt"/>
<text x="331.40" y="243.70" font-size="6.3" fill="#333" text-anchor="end" textLength="8.4" lengthAdjust="spacingAndGlyphs"  stroke="#333" stroke-width="0.2">40</text>
<line x1="332.00" y1="253.30" x2="336.00" y2="253.30" stroke="#1e1e1e" stroke-width="0.9" stroke-linecap="butt"/>
<text x="331.40" y="255.50" font-size="6.3" fill="#333" text-anchor="end" textLength="8.4" lengthAdjust="spacingAndGlyphs"  stroke="#333" stroke-width="0.2">30</text>
<line x1="332.00" y1="264.80" x2="336.00" y2="264.80" stroke="#1e1e1e" stroke-width="0.9" stroke-linecap="butt"/>
<text x="331.40" y="267.00" font-size="6.3" fill="#333" text-anchor="end" textLength="8.4" lengthAdjust="spacingAndGlyphs"  stroke="#333" stroke-width="0.2">20</text>
<line x1="350.20" y1="270.50" x2="350.20" y2="273.50" stroke="#1e1e1e" stroke-width="0.9" stroke-linecap="butt"/>
<text x="350.20" y="282.00" font-size="6.3" fill="#333" text-anchor="middle"  stroke="#333" stroke-width="0.2">0</text>
<line x1="373.70" y1="270.50" x2="373.70" y2="273.50" stroke="#1e1e1e" stroke-width="0.9" stroke-linecap="butt"/>
<text x="373.70" y="282.00" font-size="6.3" fill="#333" text-anchor="middle"  stroke="#333" stroke-width="0.2">1</text>
<line x1="397.40" y1="270.50" x2="397.40" y2="273.50" stroke="#1e1e1e" stroke-width="0.9" stroke-linecap="butt"/>
<text x="397.40" y="282.00" font-size="6.3" fill="#333" text-anchor="middle"  stroke="#333" stroke-width="0.2">2-4</text>
<text transform="translate(318.50,247.50) rotate(-90)" x="0" y="0" font-size="7.6" fill="#222" text-anchor="middle" textLength="65.6" lengthAdjust="spacingAndGlyphs"  stroke="#222" stroke-width="0.3">Sphingomyelin (mg/dL)</text>
<text x="373.00" y="293.30" font-size="8.8" fill="#2a2a2a" text-anchor="middle" textLength="46" lengthAdjust="spacingAndGlyphs"  stroke="#2a2a2a" stroke-width="0.3">Severity (grade)</text>
<line x1="458.40" y1="247.85" x2="482.34" y2="247.85" stroke="#333" stroke-width="0.9" stroke-dasharray="1.6,1.4" stroke-linecap="butt"/>
<line x1="468.47" y1="247.85" x2="468.47" y2="268.60" stroke="#3a7a8a" stroke-width="0.9" stroke-dasharray="1.4,1.4" stroke-linecap="butt"/>
<line x1="482.34" y1="247.85" x2="482.34" y2="268.60" stroke="#d0264a" stroke-width="0.9" stroke-dasharray="1.4,1.4" stroke-linecap="butt"/>
<path d="M460.80,267.36H464.45V255.32H468.10V248.27H471.75V243.70H475.04V242.04H478.69V237.89H482.34V234.16H489.27V230.84H511.90" fill="none" stroke="#2c5d8c" stroke-width="1.25" stroke-linejoin="miter"/>
<path d="M460.80,268.60H464.81V263.21H468.10V258.64H471.75V256.15H475.40V254.49H478.69V252.42H482.34V246.61H489.27V243.29H511.90" fill="none" stroke="#c9213f" stroke-width="1.25" stroke-linejoin="miter"/>
<line x1="493.65" y1="229.64" x2="493.65" y2="232.04" stroke="#2c5d8c" stroke-width="0.8" stroke-linecap="butt"/>
<line x1="493.65" y1="242.09" x2="493.65" y2="244.49" stroke="#c9213f" stroke-width="0.8" stroke-linecap="butt"/>
<line x1="497.30" y1="242.09" x2="497.30" y2="244.49" stroke="#c9213f" stroke-width="0.8" stroke-linecap="butt"/>
<line x1="458.40" y1="224.80" x2="458.40" y2="271.65" stroke="#1e1e1e" stroke-width="1.2" stroke-linecap="butt"/>
<line x1="457.80" y1="271.10" x2="516.15" y2="271.10" stroke="#1e1e1e" stroke-width="1.2" stroke-linecap="butt"/>
<line x1="454.80" y1="227.10" x2="458.40" y2="227.10" stroke="#1e1e1e" stroke-width="0.9" stroke-linecap="butt"/>
<text x="454.00" y="229.30" font-size="6.3" fill="#333" text-anchor="end" textLength="14" lengthAdjust="spacingAndGlyphs"  stroke="#333" stroke-width="0.2">1.00</text>
<line x1="454.80" y1="237.48" x2="458.40" y2="237.48" stroke="#1e1e1e" stroke-width="0.9" stroke-linecap="butt"/>
<text x="454.00" y="239.68" font-size="6.3" fill="#333" text-anchor="end" textLength="14" lengthAdjust="spacingAndGlyphs"  stroke="#333" stroke-width="0.2">0.75</text>
<line x1="454.80" y1="247.85" x2="458.40" y2="247.85" stroke="#1e1e1e" stroke-width="0.9" stroke-linecap="butt"/>
<text x="454.00" y="250.05" font-size="6.3" fill="#333" text-anchor="end" textLength="14" lengthAdjust="spacingAndGlyphs"  stroke="#333" stroke-width="0.2">0.50</text>
<line x1="454.80" y1="258.23" x2="458.40" y2="258.23" stroke="#1e1e1e" stroke-width="0.9" stroke-linecap="butt"/>
<text x="454.00" y="260.43" font-size="6.3" fill="#333" text-anchor="end" textLength="14" lengthAdjust="spacingAndGlyphs"  stroke="#333" stroke-width="0.2">0.25</text>
<line x1="454.80" y1="268.60" x2="458.40" y2="268.60" stroke="#1e1e1e" stroke-width="0.9" stroke-linecap="butt"/>
<text x="454.00" y="270.80" font-size="6.3" fill="#333" text-anchor="end" textLength="14" lengthAdjust="spacingAndGlyphs"  stroke="#333" stroke-width="0.2">0.00</text>
<line x1="460.80" y1="271.10" x2="460.80" y2="274.10" stroke="#1e1e1e" stroke-width="0.9" stroke-linecap="butt"/>
<text x="460.80" y="282.60" font-size="6.3" fill="#333" text-anchor="middle"  stroke="#333" stroke-width="0.2">0</text>
<line x1="479.05" y1="271.10" x2="479.05" y2="274.10" stroke="#1e1e1e" stroke-width="0.9" stroke-linecap="butt"/>
<text x="479.05" y="282.60" font-size="6.3" fill="#333" text-anchor="middle"  stroke="#333" stroke-width="0.2">5</text>
<line x1="497.30" y1="271.10" x2="497.30" y2="274.10" stroke="#1e1e1e" stroke-width="0.9" stroke-linecap="butt"/>
<text x="497.30" y="282.60" font-size="6.3" fill="#333" text-anchor="middle"  stroke="#333" stroke-width="0.2">10</text>
<line x1="515.55" y1="271.10" x2="515.55" y2="274.10" stroke="#1e1e1e" stroke-width="0.9" stroke-linecap="butt"/>
<text x="515.55" y="282.60" font-size="6.3" fill="#333" text-anchor="middle"  stroke="#333" stroke-width="0.2">15</text>
<text transform="translate(423.60,248.40) rotate(-90)" x="0" y="0" font-size="7.8" fill="#222" text-anchor="middle" textLength="37.7" lengthAdjust="spacingAndGlyphs"  stroke="#222" stroke-width="0.3">Cummulative</text>
<text transform="translate(434.30,248.10) rotate(-90)" x="0" y="0" font-size="7.8" fill="#222" text-anchor="middle" textLength="41.4" lengthAdjust="spacingAndGlyphs"  stroke="#222" stroke-width="0.3">CRS incidence</text>
<text x="488.30" y="293.90" font-size="8.8" fill="#2a2a2a" text-anchor="middle" textLength="33.5" lengthAdjust="spacingAndGlyphs"  stroke="#2a2a2a" stroke-width="0.3">Time (days)</text>
<text x="268.00" y="308.30" font-size="8.6" fill="#2a2a2a" textLength="64.4" lengthAdjust="spacingAndGlyphs"  stroke="#2a2a2a" stroke-width="0.15">Validated (<tspan font-style="italic">P</tspan> Value)</text>
<line x1="336.30" y1="298.60" x2="336.30" y2="311.90" stroke="#333" stroke-width="1.3" stroke-linecap="butt"/>
<line x1="335.70" y1="298.60" x2="788.00" y2="298.60" stroke="#333" stroke-width="1.3" stroke-linecap="butt"/>
<text x="371.40" y="308.30" font-size="8.6" fill="#b4b4b4" text-anchor="middle" textLength="28.5" lengthAdjust="spacingAndGlyphs" >NA (.70)</text>
<text x="488.40" y="308.30" font-size="8.6" fill="#f2b416" text-anchor="middle" textLength="30.8" lengthAdjust="spacingAndGlyphs" >Yes (.08)</text>
<text x="88.00" y="344.80" font-size="8.2" fill="#333" text-anchor="middle" textLength="31.3" lengthAdjust="spacingAndGlyphs" >Validated</text>
<text x="136.70" y="335.80" font-size="8.2" fill="#333" text-anchor="middle" textLength="44.3" lengthAdjust="spacingAndGlyphs" >Significant in</text>
<text x="135.80" y="344.80" font-size="8.2" fill="#333" text-anchor="middle" textLength="48.5" lengthAdjust="spacingAndGlyphs" >Metabolomics</text>
<text x="190.60" y="335.80" font-size="8.2" fill="#333" text-anchor="middle" textLength="44.6" lengthAdjust="spacingAndGlyphs" >Significant in</text>
<text x="190.50" y="344.80" font-size="8.2" fill="#333" text-anchor="middle" textLength="47" lengthAdjust="spacingAndGlyphs" >validation test</text>
<line x1="68.80" y1="349.80" x2="217.50" y2="349.80" stroke="#222" stroke-width="1.3" stroke-linecap="butt"/>
<text x="88.00" y="360.00" font-size="7.7" fill="#4fab5c" text-anchor="middle" >Yes</text>
<text x="88.00" y="372.10" font-size="7.7" fill="#f2b416" text-anchor="middle" >Yes</text>
<text x="88.00" y="383.50" font-size="7.7" fill="#c2294a" text-anchor="middle" >No</text>
<text x="88.00" y="395.70" font-size="7.7" fill="#b4b4b4" text-anchor="middle" >NA</text>
<path d="M133.80,357.70 L135.40,359.90 L139.10,354.80" fill="none" stroke="#111" stroke-width="1.15" stroke-linejoin="round"/>
<path d="M133.80,370.00 L135.40,372.20 L139.10,367.10" fill="none" stroke="#111" stroke-width="1.15" stroke-linejoin="round"/>
<path d="M133.80,382.30 L135.40,384.50 L139.10,379.40" fill="none" stroke="#111" stroke-width="1.15" stroke-linejoin="round"/>
<text x="136.50" y="396.90" font-size="9" font-weight="bold" font-style="italic" fill="#111" text-anchor="middle">x</text>
<path d="M188.30,357.70 L189.90,359.90 L193.60,354.80" fill="none" stroke="#111" stroke-width="1.15" stroke-linejoin="round"/>
<text x="191.50" y="384.00" font-size="9" font-weight="bold" font-style="italic" fill="#111" text-anchor="middle">x</text>
<text x="191.30" y="395.20" font-size="6.5" fill="#888" text-anchor="middle" >--</text>
<text x="184.30" y="372.10" font-size="7.7" fill="#333" text-anchor="middle" font-style="italic">P</text>
<text x="197.60" y="372.10" font-size="7.7" fill="#333" text-anchor="middle" >.1</text>
<line x1="304.00" y1="339.40" x2="317.00" y2="339.40" stroke="#d0408a" stroke-width="1.1" stroke-dasharray="1,1.2" stroke-linecap="butt"/>
<text x="320.80" y="342.30" font-size="8.1" fill="#333" textLength="75.7" lengthAdjust="spacingAndGlyphs" >Median Concentration</text>
<line x1="304.00" y1="351.70" x2="317.00" y2="351.70" stroke="#b02c50" stroke-width="1.6" stroke-linecap="butt"/>
<text x="320.80" y="354.60" font-size="8.1" fill="#333" textLength="99.9" lengthAdjust="spacingAndGlyphs" >Above Median Concentration</text>
<line x1="304.00" y1="363.80" x2="317.00" y2="363.80" stroke="#3c6f86" stroke-width="1.6" stroke-linecap="butt"/>
<text x="320.80" y="366.70" font-size="8.1" fill="#333" textLength="99.9" lengthAdjust="spacingAndGlyphs" >Below Median Concentration</text>
<line x1="304.00" y1="376.20" x2="317.00" y2="376.20" stroke="#d0264a" stroke-width="1.1" stroke-dasharray="1.6,1.4" stroke-linecap="butt"/>
<text x="320.80" y="379.10" font-size="8.1" fill="#333" textLength="95.3" lengthAdjust="spacingAndGlyphs" >Median CRS Time-to-Onset</text>
<line x1="304.00" y1="388.50" x2="317.00" y2="388.50" stroke="#3a6070" stroke-width="1.1" stroke-dasharray="1.6,1.4" stroke-linecap="butt"/>
<text x="320.80" y="391.40" font-size="8.1" fill="#333" textLength="95.3" lengthAdjust="spacingAndGlyphs" >Median CRS Time-to-Onset</text>
</svg>
</body></html>
